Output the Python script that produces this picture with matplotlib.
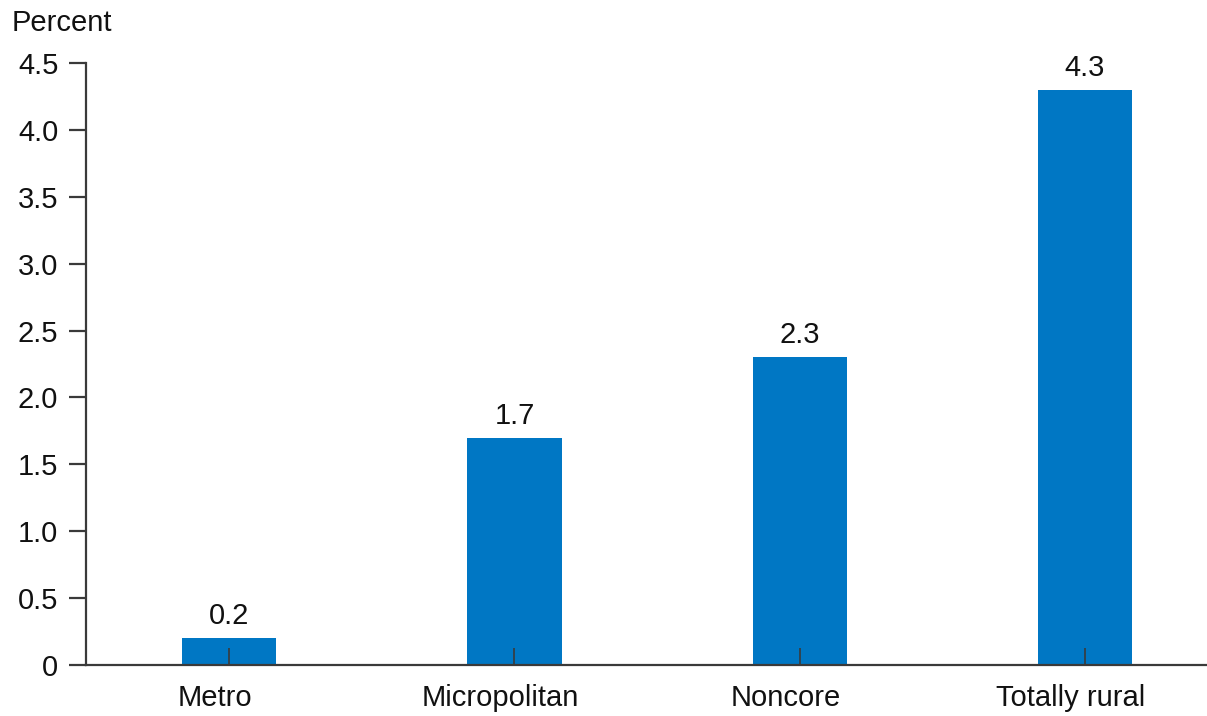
import matplotlib
matplotlib.use("Agg")
import matplotlib.pyplot as plt
from matplotlib.transforms import ScaledTranslation

categories = ["Metro", "Micropolitan", "Noncore", "Totally rural"]
values = [0.2, 1.7, 2.3, 4.3]
y_ticks = [0, 0.5, 1.0, 1.5, 2.0, 2.5, 3.0, 3.5, 4.0, 4.5]
y_tick_labels = ["0", "0.5", "1.0", "1.5", "2.0", "2.5", "3.0", "3.5", "4.0", "4.5"]

plt.rcParams["font.family"] = ["Liberation Sans", "DejaVu Sans"]

fig = plt.figure(figsize=(12.07, 7.16), dpi=100)
ax = fig.add_axes([0.0713, 0.0712, 0.9287, 0.8408])

bar_color = "#0077C4"
axis_color = "#3a3a3a"
text_color = "#111111"
fs = 21

x = list(range(len(categories)))
bars = ax.bar(x, values, width=0.33, color=bar_color, zorder=2)

for xi, v in zip(x, values):
    ax.text(xi, v + 0.06, f"{v:.1f}", ha="center", va="bottom",
            fontsize=fs, color=text_color)

ax.set_xlim(-0.502, 3.428)
ax.set_ylim(0, 4.5)
ax.set_yticks(y_ticks)
ax.set_yticklabels(y_tick_labels)
ax.set_xticks(x)
ax.set_xticklabels(categories)

for side in ("top", "right"):
    ax.spines[side].set_visible(False)
for side in ("left", "bottom"):
    ax.spines[side].set_color(axis_color)
    ax.spines[side].set_linewidth(1.6)
ax.spines["bottom"].set_zorder(3)

ax.tick_params(axis="y", direction="out", length=12, width=1.6,
               color=axis_color, pad=8, labelsize=fs, labelcolor=text_color)
ax.tick_params(axis="x", direction="in", length=12, width=1.2,
               color=axis_color, pad=14, labelsize=fs, labelcolor=text_color)
for t in ax.xaxis.get_major_ticks():
    t.tick1line.set_zorder(4)
ax.set_axisbelow(False)

# category names sit slightly left of their tick marks
shift = ScaledTranslation(-14 / 100, 0, fig.dpi_scale_trans)
for lbl in ax.get_xticklabels():
    lbl.set_transform(lbl.get_transform() + shift)

fig.text(0.010, 0.988, "Percent", ha="left", va="top", fontsize=fs,
         color=text_color)

fig.savefig("out.png", dpi=100)
